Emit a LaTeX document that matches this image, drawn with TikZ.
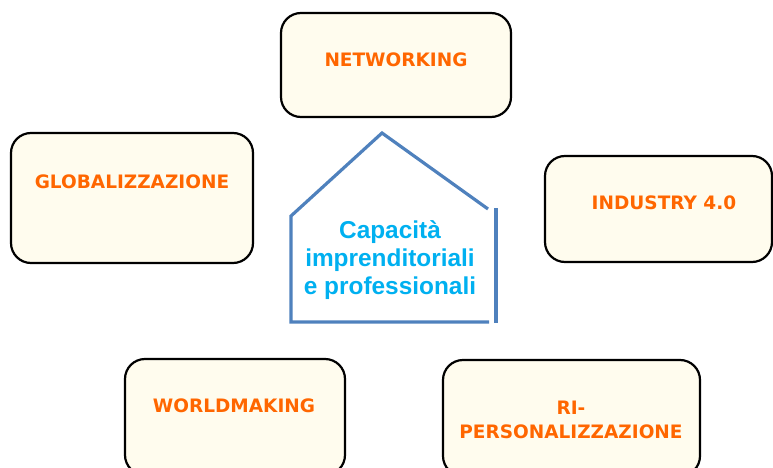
\documentclass[tikz,border=0pt]{standalone}
\usepackage{fontspec}
\setmainfont{Liberation Sans}
\newfontfamily\boxfont{DejaVu Sans}
\definecolor{boxfill}{HTML}{FFFCEE}
\definecolor{boxtext}{HTML}{FF6600}
\definecolor{housecol}{HTML}{4F81BD}
\definecolor{homecol}{HTML}{00B0F0}
\tikzset{
  topic/.style={draw=black,line width=2.2pt,fill=boxfill,rounded corners=20pt,inner sep=0pt},
  topiclabel/.style={text=boxtext,font=\boxfont\bfseries\fontsize{18.5}{24}\selectfont,align=center},
}
\begin{document}
\begin{tikzpicture}[x=1pt,y=-1pt]
  \useasboundingbox (0,0) rectangle (773,468);
  % the five boxes round the house
  \node[topic,minimum width=230pt,minimum height=104pt] (net) at (396,65) {};
  \node[topic,minimum width=242pt,minimum height=130pt] (glob) at (132,198) {};
  \node[topic,minimum width=227pt,minimum height=106pt] (ind) at (658.5,209) {};
  \node[topic,minimum width=220pt,minimum height=116pt] (world) at (235,417) {};
  \node[topic,minimum width=257pt,minimum height=116pt] (riper) at (571.5,418) {};
  \node[topiclabel] (netlabel) at (396,60) {NETWORKING};
  \node[topiclabel] (globlabel) at (132,182) {GLOBALIZZAZIONE};
  \node[topiclabel] (indlabel) at (664,203) {INDUSTRY 4.0};
  \node[topiclabel] (worldlabel) at (234,406) {WORLDMAKING};
  \node[topiclabel] (riperlabel) at (571,420) {RI-\\PERSONALIZZAZIONE};
  % house in the middle
  \draw[housecol,line width=3.2pt] (488,209) -- (382,133) -- (291,216) -- (291,322) -- (489,322);
  \draw[housecol,line width=3.2pt] (496,208) -- (496,323);
  \node[text=homecol,font=\bfseries\fontsize{24.4}{28}\selectfont,align=center] (home) at (390,260)
    {Capacità\\imprenditoriali\\e professionali};
\end{tikzpicture}
\end{document}
